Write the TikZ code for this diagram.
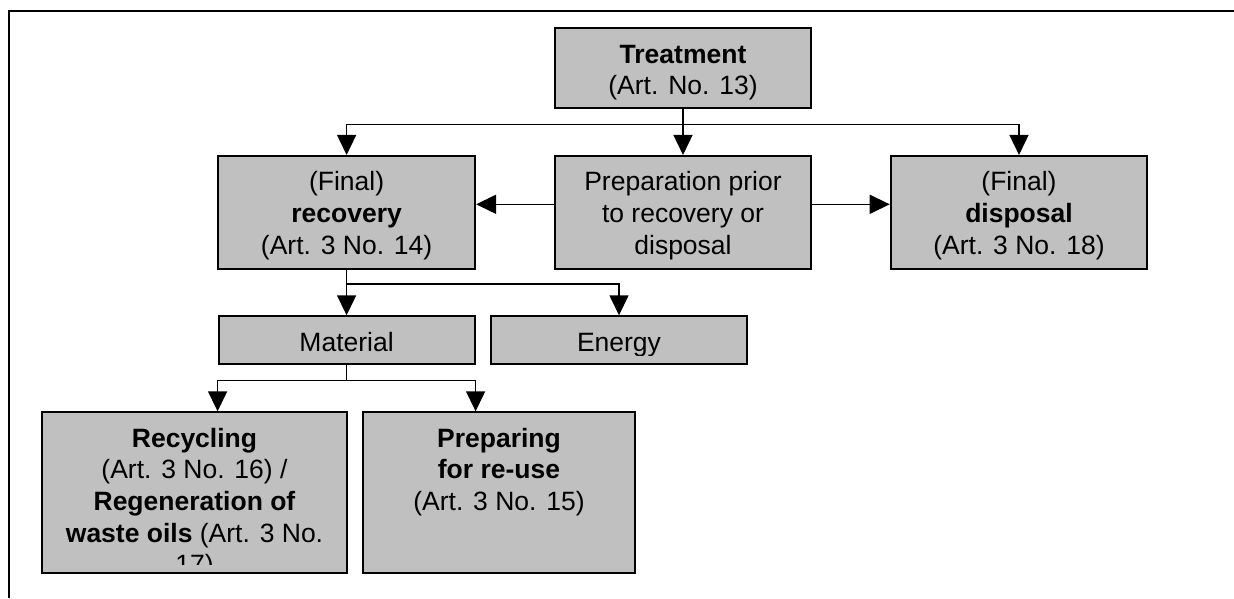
\documentclass[tikz,border=0pt]{standalone}
\usepackage{fontspec}
\setmainfont{Liberation Sans}
\usetikzlibrary{arrows.meta,calc}
\definecolor{boxgray}{RGB}{192,192,192}
\tikzset{
  box/.style={draw, line width=2pt, fill=boxgray, rectangle, inner sep=0pt},
  txt/.style={anchor=base, inner sep=0pt, font=\fontsize{26.5}{31.6}\selectfont},
  arr/.style={line width=1.5pt, -{Triangle[length=20pt,width=19pt]}},
  conn/.style={line width=1.5pt},
  frame/.style={line width=1.8pt}
}
\newcommand{\boxtext}[2]{\parbox[t]{#1}{\centering #2}}
\begin{document}
\begin{tikzpicture}[x=1pt,y=-1pt]
\useasboundingbox (0,0) rectangle (1234,598);
\fill[white] (0,0) rectangle (1234,598);
% frame
\draw[frame] (9,598) -- (9,11) -- (1234,11);

% boxes
\node[box, minimum width=256.7pt, minimum height=80pt]    (treat)  at (683,68.3) {};
\node[box, minimum width=257pt,   minimum height=112.7pt] (rec)    at (346.6,212.3) {};
\node[box, minimum width=256.5pt, minimum height=112.7pt] (prep)   at (683,212.3) {};
\node[box, minimum width=256.6pt, minimum height=112.7pt] (disp)   at (1019,212.3) {};
\node[box, minimum width=256pt,   minimum height=48pt]    (mat)    at (346.6,340.3) {};
\node[box, minimum width=256.6pt, minimum height=48pt]    (energy) at (619,340.3) {};
\node[box, minimum width=304.4pt, minimum height=160.4pt] (recyc)  at (194.5,492.5) {};
\node[box, minimum width=272.6pt, minimum height=160.4pt] (reuse)  at (499,492.5) {};

% texts
\node[txt] (treatT) at ($(treat.north)+(0,36)$) {\boxtext{250pt}{\textbf{Treatment}\\(Art. No. 13)}};
\node[txt] (recT) at ($(rec.north)+(0,36)$) {\boxtext{250pt}{(Final)\\\textbf{recovery}\\(Art. 3 No. 14)}};
\node[txt] (prepT) at ($(prep.north)+(0,36)$) {\boxtext{250pt}{Preparation prior\\to recovery or\\disposal}};
\node[txt] (dispT) at ($(disp.north)+(0,36)$) {\boxtext{250pt}{(Final)\\\textbf{disposal}\\(Art. 3 No. 18)}};
\node[txt] (matT) at ($(mat.north)+(0,36.4)$) {\boxtext{250pt}{Material}};
\begin{scope}
  \clip (energy.north west) rectangle ($(energy.south east)+(0,-9.5)$);
  \node[txt] (energyT) at ($(energy.north)+(0,36.4)$) {\boxtext{250pt}{Energy}};
\end{scope}
\begin{scope}
  \clip (recyc.north west) rectangle ($(recyc.south east)+(0,-9.5)$);
  \node[txt] (recycT) at ($(recyc.north)+(0,36)$) {\boxtext{300pt}{\textbf{Recycling}\\(Art. 3 No. 16) /\\\textbf{Regeneration of}\\\textbf{waste oils} (Art. 3 No.\\17)}};
\end{scope}
\node[txt] (reuseT) at ($(reuse.north)+(0,36)$) {\boxtext{265pt}{\textbf{Preparing}\\\textbf{for re-use}\\(Art. 3 No. 15)}};

% connectors
\coordinate (s1) at (treat.south |- 0,124.3);
\draw[arr] (treat.south) -- (prep.north);
\draw[arr] (s1) -| (rec.north);
\draw[arr] (s1) -| (disp.north);
\draw[arr] ([yshift=8pt]prep.west) -- ([yshift=8pt]rec.east);
\draw[arr] ([yshift=8pt]prep.east) -- ([yshift=8pt]disp.west);

\coordinate (s2) at (rec.south |- 0,284);
\draw[conn] (rec.south) -- (s2);
\draw[arr] (s2) -- (mat.north);
\draw[arr] (s2) -| (energy.north);

\coordinate (s3) at (mat.south |- 0,380.7);
\draw[conn] (mat.south) -- (s3);
\draw[arr] (s3) -| (mat.west |- recyc.north);
\draw[arr] (s3) -| (mat.east |- reuse.north);
\end{tikzpicture}
\end{document}
